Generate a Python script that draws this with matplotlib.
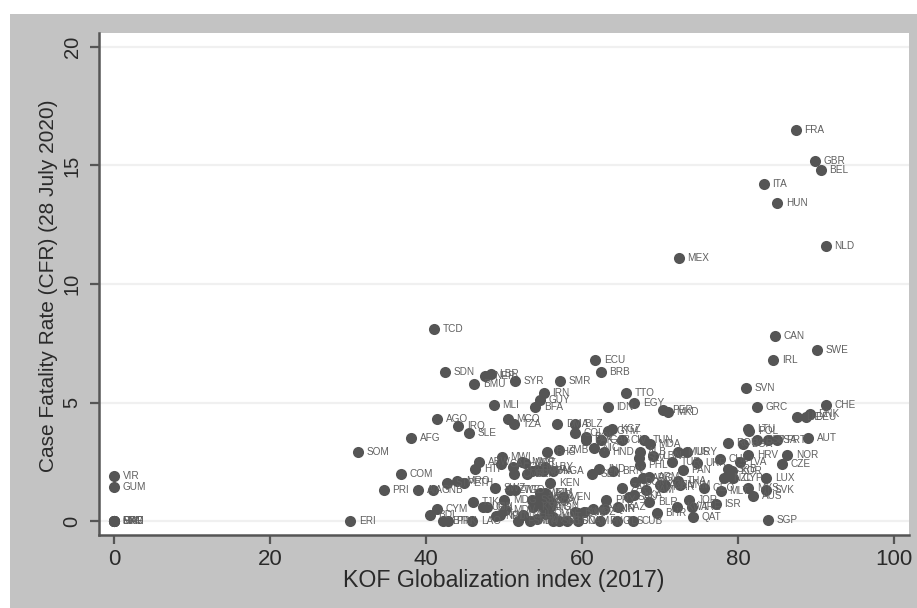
import matplotlib
matplotlib.use("Agg")
import matplotlib.pyplot as plt
from matplotlib.patches import Rectangle

# KOF index, CFR and country code
codes = ["FRA", "GBR", "BEL", "ITA", "HUN", "NLD", "MEX", "TCD", "CAN", "SWE", "IRL", "ECU", "BRB", "SDN",
         "NER", "LBR", "BMU", "SYR", "SMR", "SVN", "IRN", "TTO", "GUY", "EGY", "MLI", "BFA", "IDN", "GRC",
         "CHE", "PER", "MKD", "DNK", "LIE", "DEU", "AGO", "MCO", "TZA", "DMA", "BLZ", "IRQ", "SLE", "AFG",
         "LTU", "POL", "KGZ", "GTM", "COL", "BOL", "PAK", "ZMB", "BHS", "SOM", "MWI", "ABW", "HTI", "COM",
         "PRI", "AIA", "GNB", "STP", "MRO", "ETH", "SWZ", "CYM", "BDI", "ERI", "BTN", "PRK", "LAO", "TJK",
         "UGA", "GIN", "MDG", "NPL", "MDV", "ZWE", "TGO", "CMR", "CAF", "BEN", "GMB", "RWA", "GHA", "NGA",
         "LBY", "MMR", "MRT", "COG", "SSD", "KNA", "VCT", "LCA", "GRD", "ATG", "TON", "WSM", "KIR", "FSM",
         "MHL", "PLW", "TUV", "VUT", "SLB", "LSO", "BWA", "NAM", "PNG", "TLS", "CUB", "GNQ", "MNP", "MOZ",
         "SYC", "KHM", "OMN", "BGD", "HMN", "PRY", "KAZ", "FJI", "CPV", "VEN", "GAB", "CIV", "NIC", "HND",
         "SEN", "IND", "BRN", "ALB", "SLV", "PHL", "LBN", "TUN", "MDA", "MUS", "URY", "TUR", "UKR", "PAN",
         "DOM", "ARG", "ARM", "AZE", "MAR", "CHN", "THA", "VNM", "JAM", "SAU", "ZAF", "LKA", "BLR", "KWT",
         "BHR", "ARE", "JOR", "QAT", "ISR", "GEO", "MLT", "AUS", "SVK", "MYS", "LUX", "NZL", "CYP", "KOR",
         "SRB", "CHL", "LVA", "CZE", "NOR", "HRV", "AUT", "PRT", "USA", "ESP", "BGR", "ROU", "SGP",
         "KEN", "GRL", "VIR", "GUM", "MAF", "SXM", "FRO", "PYF"]
kof = [87.4, 89.9, 90.6, 83.3, 85.0, 91.2, 72.4, 41.0, 84.7, 90.1, 84.5, 61.7, 62.4, 42.4,
       47.6, 48.3, 46.2, 51.4, 57.2, 81.0, 55.1, 65.6, 54.6, 66.7, 48.7, 54.0, 63.3, 82.4,
       91.3, 70.4, 71.0, 89.2, 87.6, 88.7, 41.4, 50.5, 51.3, 56.8, 59.1, 44.1, 45.5, 38.1,
       81.3, 81.4, 63.8, 63.3, 59.1, 60.5, 60.5, 57.1, 55.5, 31.3, 49.7, 46.8, 46.3, 36.8,
       34.6, 39.0, 40.9, 42.7, 44.0, 44.9, 48.8, 41.4, 40.5, 30.3, 42.2, 42.8, 45.9, 46.0,
       47.3, 47.8, 50.0, 49.0, 50.1, 50.8, 51.4, 51.3, 49.6, 52.9, 53.6, 54.2, 55.0, 56.3,
       55.3, 52.3, 52.7, 51.2, 53.6, 53.7, 54.6, 55.5, 54.4, 55.0, 55.9, 54.6, 55.5, 51.8,
       52.4, 53.3, 54.2, 56.3, 56.3, 58.1, 59.1, 59.5, 62.3, 64.5, 66.5, 61.4, 62.8, 60.3,
       59.5, 49.5, 55.2, 57.0, 62.8, 63.1, 64.6, 55.3, 56.0, 57.5, 62.4, 65.1, 61.5, 62.8,
       61.3, 62.2, 64.0, 67.4, 67.3, 67.4, 69.1, 67.9, 68.7, 72.3, 73.5, 71.5, 74.7, 72.9,
       66.8, 67.8, 68.6, 70.0, 70.4, 70.6, 72.3, 72.6, 68.2, 66.0, 65.1, 66.7, 68.6, 72.2,
       69.6, 74.1, 73.7, 74.2, 77.1, 75.6, 77.8, 81.9, 83.6, 81.3, 83.6, 78.2, 79.4, 79.2,
       78.7, 77.7, 80.3, 85.6, 86.3, 81.3, 89.0, 85.0, 83.8, 82.4, 80.6, 78.7, 83.8,
       55.9, 0.0, 0.0, 0.0, 0.0, 0.0, 0.0, 0.0]
cfr = [16.5, 15.2, 14.8, 14.2, 13.4, 11.6, 11.1, 8.1, 7.8, 7.2, 6.8, 6.8, 6.3, 6.3,
       6.1, 6.2, 5.8, 5.9, 5.9, 5.6, 5.4, 5.4, 5.1, 5.0, 4.9, 4.8, 4.8, 4.8,
       4.9, 4.7, 4.6, 4.5, 4.4, 4.4, 4.3, 4.3, 4.1, 4.1, 4.1, 4.0, 3.7, 3.5,
       3.9, 3.8, 3.9, 3.8, 3.7, 3.55, 3.4, 3.0, 2.9, 2.9, 2.7, 2.5, 2.2, 2.0,
       1.3, 1.3, 1.3, 1.6, 1.7, 1.6, 1.4, 0.5, 0.25, 0.0, 0.0, 0.0, 0.0, 0.8,
       0.6, 0.6, 0.9, 0.2, 0.45, 1.3, 1.3, 2.0, 2.4, 2.0, 2.1, 2.15, 2.1, 2.1,
       2.3, 2.5, 2.45, 2.3, 0.9, 0.6, 1.0, 0.9, 0.75, 0.6, 0.6, 1.2, 1.1, 0.0,
       0.25, 0.0, 0.1, 0.15, 0.0, 0.0, 0.4, 0.0, 0.0, 0.0, 0.0, 0.5, 0.5, 0.4,
       0.35, 0.25, 0.3, 0.0, 0.5, 0.9, 0.6, 1.2, 0.8, 1.0, 3.4, 3.4, 3.1, 2.9,
       2.0, 2.2, 2.1, 2.9, 2.65, 2.35, 2.75, 3.4, 3.25, 2.9, 2.9, 2.5, 2.45, 2.15,
       1.65, 1.8, 1.85, 1.5, 1.45, 1.5, 1.7, 1.5, 1.3, 1.0, 1.4, 1.1, 0.8, 0.6,
       0.35, 0.6, 0.9, 0.15, 0.7, 1.4, 1.25, 1.05, 1.3, 1.4, 1.8, 1.8, 1.8, 2.1,
       2.2, 2.6, 2.5, 2.4, 2.8, 2.8, 3.5, 3.4, 3.4, 3.4, 3.25, 3.3, 0.05,
       1.6, 0.0, 1.9, 1.43, 0.0, 0.0, 0.0, 0.0]
x_ticks = [0, 20, 40, 60, 80, 100]
y_ticks = [0, 5, 10, 15, 20]

plt.rcParams["font.family"] = ["Liberation Sans", "DejaVu Sans"]
dark = "#555555"

fig = plt.figure(figsize=(9.17, 6.08), dpi=100, facecolor="white")
# grey plot region, with the thin white margin left and on top
fig.add_artist(Rectangle((10 / 917, 0), 907 / 917, 594 / 608, transform=fig.transFigure,
                         facecolor="#c3c3c3", edgecolor="none", zorder=-1))
ax = fig.add_axes([99 / 917, 73 / 608, 810 / 917, 502 / 608])
ax.set_xlim(-1.92, 101.9)
ax.set_ylim(-0.59, 20.59)

ax.scatter(kof, cfr, s=64, color=dark, linewidths=0, zorder=3)
for code, x, y in zip(codes, kof, cfr):
    ax.annotate(code, (x, y), xytext=(6.2, 0), textcoords="offset points",
                fontsize=7.2, color="#5f5f5f", va="center", ha="left", zorder=4)

ax.set_xticks(x_ticks)
ax.set_yticks(y_ticks)
ax.grid(axis="y", color="#f0f0f0", linewidth=1.6, zorder=0)
ax.set_axisbelow(True)
ax.tick_params(axis="x", length=6.5, width=1.6, color=dark, labelsize=16, labelcolor="#2a2a2a", pad=3.8)
ax.tick_params(axis="y", length=6.5, width=1.6, color=dark, labelsize=14.5, labelcolor="#2a2a2a", pad=6)
plt.setp(ax.get_yticklabels(), rotation=90, va="center")
for side in ["top", "right"]:
    ax.spines[side].set_visible(False)
for side in ["left", "bottom"]:
    ax.spines[side].set_color(dark)
    ax.spines[side].set_linewidth(1.8)

ax.set_xlabel("KOF Globalization index (2017)", fontsize=16.7, color="#2a2a2a")
ax.set_ylabel("Case Fatality Rate (CFR) (28 July 2020)", fontsize=15, color="#2a2a2a")
ax.xaxis.set_label_coords(0.5, -0.068)
ax.yaxis.set_label_coords(-0.05, 0.496)

fig.savefig("out.png", dpi=100)
